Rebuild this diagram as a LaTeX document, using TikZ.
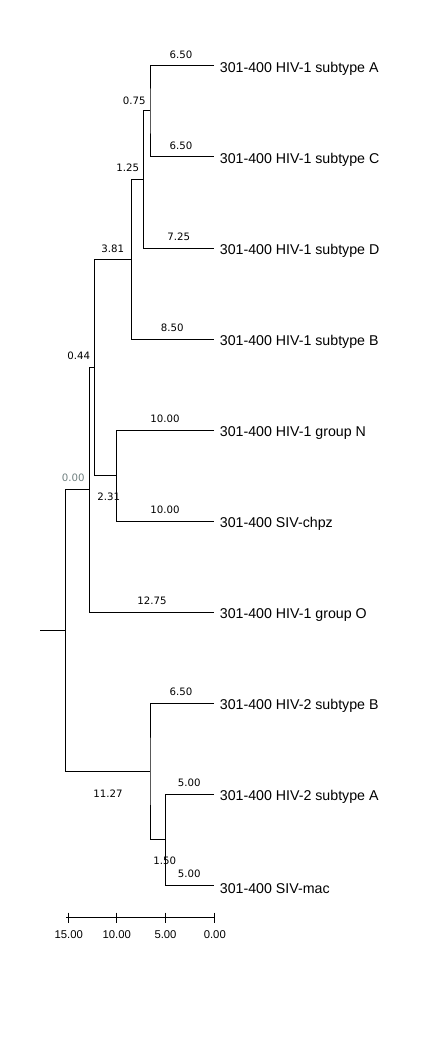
\documentclass[tikz,border=0pt]{standalone}
\usepackage{fontspec}
\setmainfont{Liberation Sans}
\newfontfamily\numfont{DejaVu Sans}
\usepackage{xcolor}
\usepackage{tikz}
\usetikzlibrary{positioning}
\definecolor{rootgray}{RGB}{112,128,128}

\begin{document}
\begin{tikzpicture}[x=1pt, y=-1pt, line width=1pt,
    leaf/.style={font=\fontsize{14.2}{16}\selectfont, inner sep=0pt, yshift=-3pt},
    blen/.style={font=\numfont\fontsize{10.2}{12}\selectfont, inner sep=0pt},
    axlab/.style={font=\fontsize{11.3}{12}\selectfont, inner sep=0pt}]
    \useasboundingbox (0,0) rectangle (420,1056);

    % 1. Leaf tips
    \coordinate (tA) at (214,66);
    \coordinate (tC) at (214,157);
    \coordinate (tD) at (214,248.3);
    \coordinate (tB) at (214,339);
    \coordinate (tN) at (214,430.3);
    \coordinate (tchpz) at (214,521.3);
    \coordinate (tO) at (214,612.3);
    \coordinate (tHB) at (214,703);
    \coordinate (tHA) at (214,794.3);
    \coordinate (tmac) at (214,885.3);

    % 2. Internal nodes
    \coordinate (n075) at (150,111);
    \coordinate (n125) at (143.3,179.3);
    \coordinate (n381) at (131.3,259.3);
    \coordinate (n044) at (94.3,367.3);
    \coordinate (n231) at (116.3,475.3);
    \coordinate (n000) at (89.3,489.3);
    \coordinate (root) at (65.3,630.3);
    \coordinate (stub) at (40,630.3);
    \coordinate (nH2) at (150,771.3);
    \coordinate (n150) at (165.3,839.3);

    % 3. Branches
    \draw (tA) -| (n075) |- (tC);
    \draw (n075) -| (n125) |- (tD);
    \draw (n125) -| (n381) |- (tB);
    \draw (n381) -| (n044) |- (n231);
    \draw (tN) -| (n231) |- (tchpz);
    \draw (n044) -| (n000) |- (tO);
    \draw (n000) -| (root) |- (nH2);
    \draw (tHB) -| (nH2) |- (n150);
    \draw (tHA) -| (n150) |- (tmac);
    \draw (stub) -- (root);

    % 4. Leaf labels
    \node[leaf, right=5.4pt of tA] (lA) {301-400 HIV-1 subtype A};
    \node[leaf, right=5.4pt of tC] (lC) {301-400 HIV-1 subtype C};
    \node[leaf, right=5.4pt of tD] (lD) {301-400 HIV-1 subtype D};
    \node[leaf, right=5.4pt of tB] (lB) {301-400 HIV-1 subtype B};
    \node[leaf, right=5.4pt of tN] (lN) {301-400 HIV-1 group N};
    \node[leaf, right=5.4pt of tchpz] (lchpz) {301-400 SIV-chpz};
    \node[leaf, right=5.4pt of tO] (lO) {301-400 HIV-1 group O};
    \node[leaf, right=5.4pt of tHB] (lHB) {301-400 HIV-2 subtype B};
    \node[leaf, right=5.4pt of tHA] (lHA) {301-400 HIV-2 subtype A};
    \node[leaf, right=5.4pt of tmac] (lmac) {301-400 SIV-mac};

    % 5. Branch lengths
    \node[blen] (bA) at (181,55) {6.50};
    \node[blen] (bC) at (181,146) {6.50};
    \node[blen] (bD) at (178.7,236.7) {7.25};
    \node[blen] (bB) at (172.3,327.3) {8.50};
    \node[blen] (b075) at (134.3,100.3) {0.75};
    \node[blen] (b125) at (127.7,168) {1.25};
    \node[blen] (b381) at (112.7,248.3) {3.81};
    \node[blen] (b044) at (78.7,355.7) {0.44};
    \node[blen] (bN) at (165,419) {10.00};
    \node[blen] (bchpz) at (165,509.7) {10.00};
    \node[blen] (b231) at (108.7,497) {2.31};
    \node[blen, text=rootgray] (b000) at (73.3,478) {0.00};
    \node[blen] (bO) at (152,600.7) {12.75};
    \node[blen] (bHB) at (181,692) {6.50};
    \node[blen] (b1127) at (108,793.3) {11.27};
    \node[blen] (bHA) at (189.3,783) {5.00};
    \node[blen] (b150) at (164.7,861) {1.50};
    \node[blen] (bmac) at (189.3,873.7) {5.00};

    % 6. Scale axis
    \coordinate (ax0) at (66,917.3);
    \coordinate (ax1) at (215,917.3);
    \draw (ax0) -- (ax1);
    \foreach \v/\px [count=\i] in {15.00/68.3, 10.00/116.3, 5.00/165, 0.00/214.3} {
        \draw (\px,912.7) -- (\px,923.3);
        \node[axlab] (ax\i) at (\px+0.5,934.3) {\v};
    }
\end{tikzpicture}
\end{document}
